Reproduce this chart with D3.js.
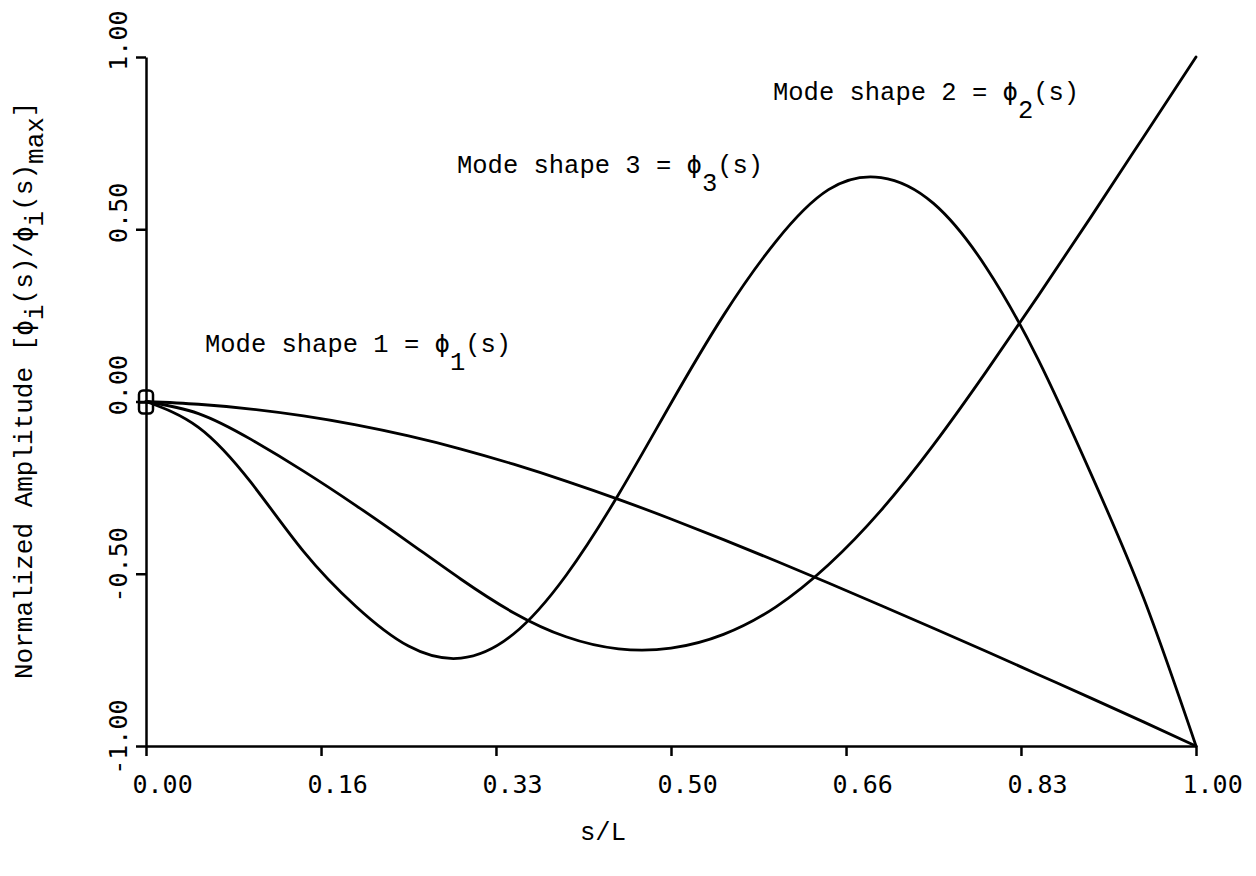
<!DOCTYPE html>
<html>
<head>
<meta charset="utf-8">
<script src="https://cdn.jsdelivr.net/npm/d3@7"></script>
<style>
  body { margin: 0; background: #fff; }
  svg { display: block; }
</style>
</head>
<body>
<svg id="chart" width="1256" height="876"></svg>
<script>
// Normalized position along the span, s/L
const sValues = [0, 0.05, 0.10, 0.15, 0.20, 0.25, 0.30, 0.35, 0.40, 0.45, 0.50,
                 0.55, 0.60, 0.65, 0.70, 0.75, 0.80, 0.85, 0.90, 0.95, 1.00];

// Normalized mode shape amplitudes phi_i(s)/phi_i(s)max
const mode1 = [0, -0.008, -0.022, -0.042, -0.068, -0.100, -0.138, -0.182, -0.231, -0.284, -0.341,
               -0.401, -0.463, -0.527, -0.592, -0.658, -0.725, -0.793, -0.861, -0.930, -1.000];
const mode2 = [0, -0.035, -0.110, -0.202, -0.302, -0.408, -0.516, -0.613, -0.683, -0.718, -0.716,
               -0.676, -0.596, -0.474, -0.316, -0.126, 0.086, 0.308, 0.536, 0.768, 1.000];
const mode3 = [0, -0.075, -0.235, -0.435, -0.595, -0.710, -0.745, -0.675, -0.505, -0.270, -0.005,
               0.250, 0.465, 0.615, 0.650, 0.575, 0.390, 0.120, -0.210, -0.570, -1.000];

const xTickValues = [0, 0.1667, 0.3333, 0.5, 0.6667, 0.8333, 1];
const xTickLabels = ["0.00", "0.16", "0.33", "0.50", "0.66", "0.83", "1.00"];
const yTickValues = [-1, -0.5, 0, 0.5, 1];
const yTickLabels = ["-1.00", "-0.50", "0.00", "0.50", "1.00"];

const modeNumbers = ["1", "2", "3"];
const xTitle = "s/L";

const svg = d3.select("#chart");
const plotFont = "'DejaVu Sans Mono', monospace";
const typeFont = "'Liberation Mono', 'DejaVu Sans Mono', monospace";
const PHI = "\u03D5";

const x = d3.scaleLinear().domain([0, 1]).range([146, 1196]);
const y = d3.scaleLinear().domain([-1, 1]).range([746, 57]);

// Axes
const xAxis = svg.append("g")
  .attr("transform", `translate(0,${y(-1)})`)
  .call(d3.axisBottom(x)
    .tickValues(xTickValues)
    .tickFormat((d, i) => xTickLabels[i])
    .tickSize(10)
    .tickSizeOuter(0));

const yAxis = svg.append("g")
  .attr("transform", `translate(${x(0)},0)`)
  .call(d3.axisLeft(y)
    .tickValues(yTickValues)
    .tickFormat((d, i) => yTickLabels[i])
    .tickSize(10)
    .tickSizeOuter(0));

[xAxis, yAxis].forEach(g => {
  g.select(".domain").attr("stroke", "#000").attr("stroke-width", 2.5);
  g.selectAll(".tick line").attr("stroke", "#000").attr("stroke-width", 2.5);
  g.selectAll(".tick text")
    .attr("fill", "#000")
    .style("font-family", plotFont)
    .style("font-size", "25px");
});

xAxis.selectAll(".tick text")
  .attr("text-anchor", "start")
  .attr("x", -14)
  .attr("y", 47)
  .attr("dy", 0);

yAxis.selectAll(".tick text")
  .attr("text-anchor", "end")
  .attr("x", 0)
  .attr("y", 0)
  .attr("dy", 0)
  .attr("transform", "translate(-19,-47) rotate(-90)");

// Mode shape curves
const line = d3.line()
  .x((d, i) => x(sValues[i]))
  .y(d => y(d))
  .curve(d3.curveNatural);

svg.append("g")
  .selectAll("path")
  .data([mode1, mode2, mode3])
  .join("path")
  .attr("d", line)
  .attr("fill", "none")
  .attr("stroke", "#000")
  .attr("stroke-width", 2.8)
  .attr("stroke-linejoin", "round")
  .attr("stroke-linecap", "round");

// Start-point symbol at the root
const ox = x(0), oy = y(0);
svg.append("rect")
  .attr("x", ox - 7).attr("y", oy - 11)
  .attr("width", 14).attr("height", 23)
  .attr("rx", 4)
  .attr("fill", "none").attr("stroke", "#000").attr("stroke-width", 2.5);
svg.append("line")
  .attr("x1", ox - 7).attr("x2", ox + 7)
  .attr("y1", oy + 1).attr("y2", oy + 1)
  .attr("stroke", "#000").attr("stroke-width", 2.5);

// Curve annotations
const annotations = [
  { n: modeNumbers[0], x: 205, y: 352 },
  { n: modeNumbers[1], x: 773, y: 100 },
  { n: modeNumbers[2], x: 457, y: 173 }
];
annotations.forEach(a => {
  const t = svg.append("text")
    .attr("x", a.x).attr("y", a.y)
    .attr("fill", "#000")
    .style("font-family", typeFont)
    .style("font-size", "25.5px")
    .attr("xml:space", "preserve");
  t.append("tspan").text(`Mode shape ${a.n} = `);
  t.append("tspan").style("font-family", plotFont).text(PHI);
  t.append("tspan").attr("dy", 18).text(a.n);
  t.append("tspan").attr("dy", -18).text("(s)");
});

// X axis title
svg.append("text")
  .attr("x", 603).attr("y", 840)
  .attr("text-anchor", "middle")
  .attr("fill", "#000")
  .style("font-family", typeFont)
  .style("font-size", "25.5px")
  .text(xTitle);

// Y axis title
const yTitle = svg.append("text")
  .attr("transform", "translate(32,679) rotate(-90)")
  .attr("fill", "#000")
  .style("font-family", typeFont)
  .style("font-size", "26px")
  .attr("xml:space", "preserve");
yTitle.append("tspan").text("Normalized Amplitude [");
yTitle.append("tspan").style("font-family", plotFont).text(PHI);
yTitle.append("tspan").attr("dy", 11).text("i");
yTitle.append("tspan").attr("dy", -11).text("(s)/");
yTitle.append("tspan").style("font-family", plotFont).text(PHI);
yTitle.append("tspan").attr("dy", 11).text("i");
yTitle.append("tspan").attr("dy", -11).text("(s)");
yTitle.append("tspan").attr("dy", 11).text("max");
yTitle.append("tspan").attr("dy", -11).text("]");
</script>
</body>
</html>
